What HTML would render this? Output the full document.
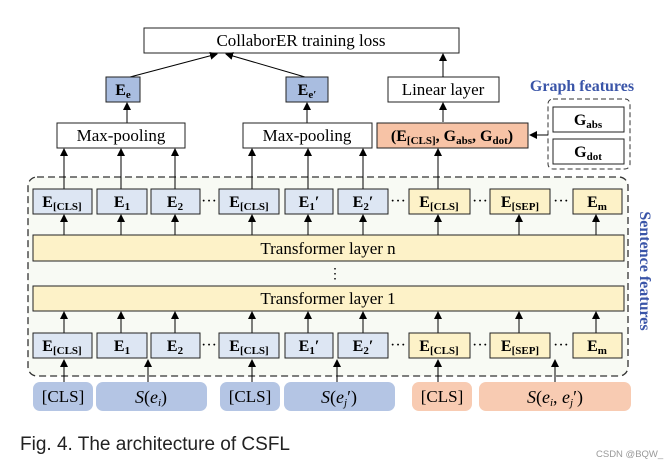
<!DOCTYPE html>
<html><head><meta charset="utf-8"><style>
html,body{margin:0;padding:0;background:#fff;width:671px;height:468px;overflow:hidden}
svg{display:block}
.s{font-family:"Liberation Serif",serif}
.b{font-weight:bold}
</style></head><body>
<svg width="671" height="468" viewBox="0 0 671 468" xmlns="http://www.w3.org/2000/svg">
<defs>
<marker id="a" markerWidth="8" markerHeight="8" refX="7" refY="4" orient="auto" markerUnits="userSpaceOnUse">
<path d="M0,0 L8,4 L0,8 z" fill="#000"/></marker>
</defs>
<g class="s" font-size="16" text-anchor="middle">
<rect x="28" y="177" width="600" height="199" rx="9" fill="#f8faf4" stroke="#333" stroke-width="1.3" stroke-dasharray="7,4"/>
<rect x="144" y="28" width="315" height="25" fill="#fff" stroke="#222"/>
<text x="301" y="46" font-size="17">CollaborER training loss</text>
<line x1="130" y1="77" x2="217" y2="54" stroke="#000" marker-end="url(#a)"/>
<line x1="305" y1="77" x2="226" y2="54" stroke="#000" marker-end="url(#a)"/>
<rect x="106" y="77" width="34" height="25" fill="#a9bde0" stroke="#222"/>
<text x="123" y="95" class="b">E<tspan font-size="11" dy="3">e</tspan></text>
<rect x="286" y="77" width="42" height="25" fill="#a9bde0" stroke="#222"/>
<text x="307" y="95" class="b">E<tspan font-size="11" dy="3">e′</tspan></text>
<rect x="388" y="77" width="111" height="25" fill="#fff" stroke="#222"/>
<text x="443" y="95" font-size="17">Linear layer</text>
<text x="582" y="91" font-size="16" class="b" fill="#3a55a8">Graph features</text>
<line x1="443" y1="122" x2="443" y2="103" stroke="#000" marker-end="url(#a)"/>
<line x1="443" y1="77" x2="443" y2="54" stroke="#000" marker-end="url(#a)"/>
<line x1="127" y1="123" x2="127" y2="103" stroke="#000" marker-end="url(#a)"/>
<line x1="307" y1="123" x2="307" y2="103" stroke="#000" marker-end="url(#a)"/>
<rect x="57" y="123" width="128" height="25" fill="#fff" stroke="#222"/>
<text x="121" y="141" font-size="17">Max-pooling</text>
<rect x="243" y="123" width="129" height="25" fill="#fff" stroke="#222"/>
<text x="307" y="141" font-size="17">Max-pooling</text>
<rect x="377" y="123" width="151" height="25" fill="#f7c3a6" stroke="#222"/>
<text x="452" y="141" class="b">(E<tspan font-size="11" dy="3">[CLS]</tspan><tspan dy="-3">, G</tspan><tspan font-size="11" dy="3">abs</tspan><tspan dy="-3">, G</tspan><tspan font-size="11" dy="3">dot</tspan><tspan dy="-3">)</tspan></text>
<rect x="548" y="99" width="82" height="70" rx="5" fill="#fff" stroke="#333" stroke-dasharray="5,3"/>
<rect x="553" y="107" width="71" height="25" fill="#fff" stroke="#222"/>
<text x="588" y="125" class="b">G<tspan font-size="11" dy="3">abs</tspan></text>
<rect x="553" y="139" width="71" height="25" fill="#fff" stroke="#222"/>
<text x="588" y="157" class="b">G<tspan font-size="11" dy="3">dot</tspan></text>
<line x1="548" y1="135" x2="530" y2="135" stroke="#000" marker-end="url(#a)"/>
<g stroke="#000" marker-end="url(#a)">
<line x1="64" y1="189" x2="64" y2="149"/><line x1="121" y1="189" x2="121" y2="149"/><line x1="175" y1="189" x2="175" y2="149"/>
<line x1="252" y1="189" x2="252" y2="149"/><line x1="308" y1="189" x2="308" y2="149"/><line x1="363" y1="189" x2="363" y2="149"/>
<line x1="438" y1="189" x2="438" y2="149"/>
<line x1="64" y1="235" x2="64" y2="215"/><line x1="121" y1="235" x2="121" y2="215"/><line x1="175" y1="235" x2="175" y2="215"/>
<line x1="252" y1="235" x2="252" y2="215"/><line x1="308" y1="235" x2="308" y2="215"/><line x1="363" y1="235" x2="363" y2="215"/>
<line x1="438" y1="235" x2="438" y2="215"/><line x1="519" y1="235" x2="519" y2="215"/><line x1="596" y1="235" x2="596" y2="215"/>
<line x1="64" y1="333" x2="64" y2="312"/><line x1="121" y1="333" x2="121" y2="312"/><line x1="175" y1="333" x2="175" y2="312"/>
<line x1="252" y1="333" x2="252" y2="312"/><line x1="308" y1="333" x2="308" y2="312"/><line x1="363" y1="333" x2="363" y2="312"/>
<line x1="438" y1="333" x2="438" y2="312"/><line x1="519" y1="333" x2="519" y2="312"/><line x1="596" y1="333" x2="596" y2="312"/>
<line x1="64" y1="382" x2="64" y2="360"/><line x1="148" y1="382" x2="148" y2="360"/><line x1="252" y1="382" x2="252" y2="360"/>
<line x1="337" y1="382" x2="337" y2="360"/><line x1="438" y1="382" x2="438" y2="360"/><line x1="555" y1="382" x2="555" y2="360"/>
</g>
<g id="row">
<rect x="33" y="189" width="59" height="25" fill="#dde6f3" stroke="#222"/>
<text x="62" y="207" class="b">E<tspan font-size="11" dy="3">[CLS]</tspan></text>
<rect x="97" y="189" width="50" height="25" fill="#dde6f3" stroke="#222"/>
<text x="122" y="207" class="b">E<tspan font-size="11" dy="3">1</tspan></text>
<rect x="151" y="189" width="49" height="25" fill="#dde6f3" stroke="#222"/>
<text x="175" y="207" class="b">E<tspan font-size="11" dy="3">2</tspan></text>
<text x="209" y="206">···</text>
<rect x="219" y="189" width="60" height="25" fill="#dde6f3" stroke="#222"/>
<text x="249" y="207" class="b">E<tspan font-size="11" dy="3">[CLS]</tspan></text>
<rect x="285" y="189" width="48" height="25" fill="#dde6f3" stroke="#222"/>
<text x="309" y="207" class="b">E<tspan font-size="11" dy="3">1</tspan><tspan dy="-3">′</tspan></text>
<rect x="338" y="189" width="50" height="25" fill="#dde6f3" stroke="#222"/>
<text x="363" y="207" class="b">E<tspan font-size="11" dy="3">2</tspan><tspan dy="-3">′</tspan></text>
<text x="398" y="206">···</text>
<rect x="409" y="189" width="61" height="25" fill="#fdf2c8" stroke="#222"/>
<text x="439" y="207" class="b">E<tspan font-size="11" dy="3">[CLS]</tspan></text>
<text x="480" y="206">···</text>
<rect x="490" y="189" width="60" height="25" fill="#fdf2c8" stroke="#222"/>
<text x="520" y="207" class="b">E<tspan font-size="11" dy="3">[SEP]</tspan></text>
<text x="561" y="206">···</text>
<rect x="573" y="189" width="49" height="25" fill="#fdf2c8" stroke="#222"/>
<text x="597" y="207" class="b">E<tspan font-size="11" dy="3">m</tspan></text>
</g>
<use href="#row" y="144"/>
<rect x="33" y="235" width="591" height="26" fill="#fdf2c8" stroke="#222"/>
<text x="328" y="254" font-size="17">Transformer layer n</text>
<text x="335" y="278" font-size="14">⋮</text>
<rect x="33" y="286" width="591" height="25" fill="#fdf2c8" stroke="#222"/>
<text x="328" y="304" font-size="17">Transformer layer 1</text>
<rect x="33" y="382" width="60" height="29" rx="7" fill="#b4c5e4"/>
<text x="63" y="402" font-size="17">[CLS]</text>
<rect x="96" y="382" width="111" height="29" rx="7" fill="#b4c5e4"/>
<text x="151" y="403" font-size="18"><tspan font-style="italic">S</tspan>(<tspan font-style="italic">e</tspan><tspan font-size="11" dy="3" font-style="italic">i</tspan><tspan dy="-3">)</tspan></text>
<rect x="220" y="382" width="60" height="29" rx="7" fill="#b4c5e4"/>
<text x="250" y="402" font-size="17">[CLS]</text>
<rect x="284" y="382" width="111" height="29" rx="7" fill="#b4c5e4"/>
<text x="339" y="403" font-size="18"><tspan font-style="italic">S</tspan>(<tspan font-style="italic">e</tspan><tspan font-size="11" dy="3" font-style="italic">j</tspan><tspan dy="-3">′)</tspan></text>
<rect x="412" y="382" width="60" height="29" rx="7" fill="#f8cbb2"/>
<text x="442" y="402" font-size="17">[CLS]</text>
<rect x="479" y="382" width="152" height="29" rx="7" fill="#f8cbb2"/>
<text x="555" y="403" font-size="18"><tspan font-style="italic">S</tspan>(<tspan font-style="italic">e</tspan><tspan font-size="11" dy="3" font-style="italic">i</tspan><tspan dy="-3">, </tspan><tspan font-style="italic">e</tspan><tspan font-size="11" dy="3" font-style="italic">j</tspan><tspan dy="-3">′)</tspan></text>
<text transform="translate(640,271) rotate(90)" font-size="16" class="b" fill="#3a55a8">Sentence features</text>
</g>
<text x="20" y="450" font-family="Liberation Sans,sans-serif" font-size="19" fill="#222">Fig. 4. The architecture of CSFL</text>
<text x="596" y="457" font-family="Liberation Sans,sans-serif" font-size="9.5" fill="#999">CSDN @BQW_</text>
</svg>
</body></html>
